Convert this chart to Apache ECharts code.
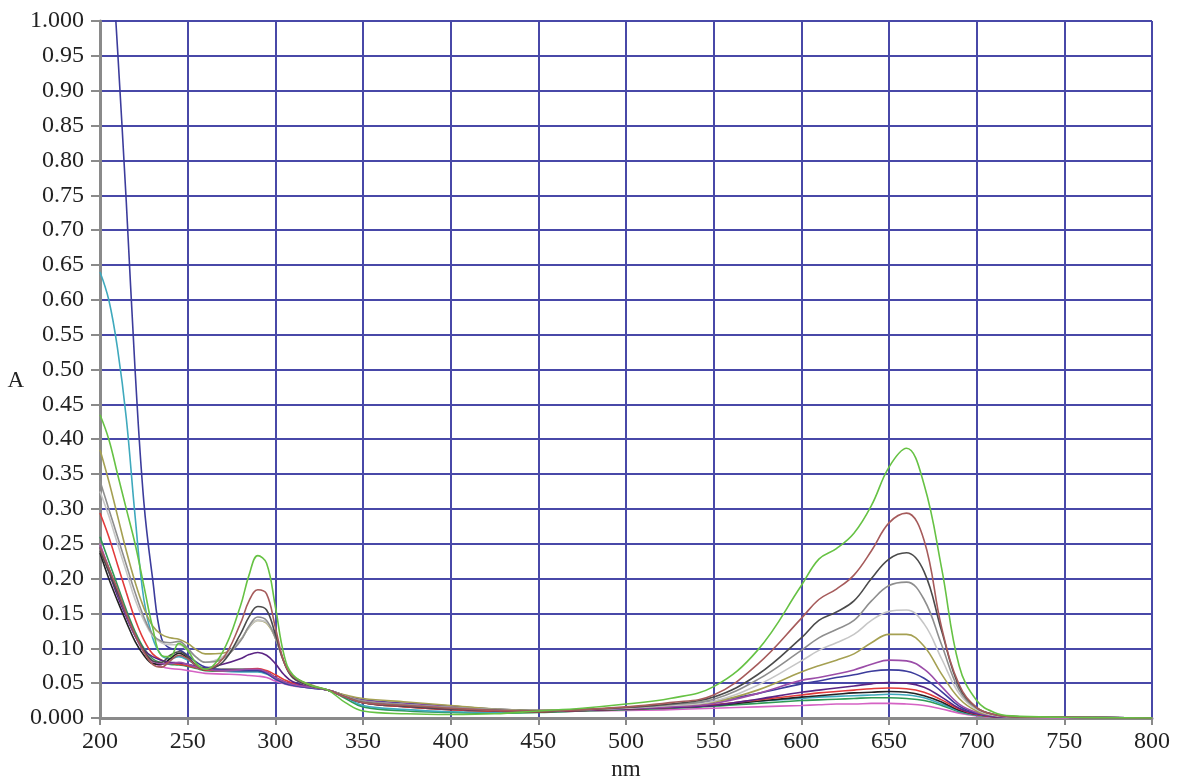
<!DOCTYPE html>
<html>
<head>
<meta charset="utf-8">
<script src="https://cdn.jsdelivr.net/npm/echarts@6/dist/echarts.min.js"></script>
<style>
  html, body { margin: 0; padding: 0; background: #fff; }
  #chart { width: 1178px; height: 781px; }
</style>
</head>
<body>
<div id="chart"></div>
<script>
// wavelengths (nm), shared by every spectrum
const wl = [200,205,210,215,220,225,230,235,240,245,250,255,260,270,280,285,290,295,300,305,310,320,330,340,350,375,400,425,450,475,500,525,550,575,600,610,620,630,640,650,660,670,680,690,700,710,720,750,800];

// absorbance
const green     = [0.435,0.40,0.35,0.30,0.25,0.19,0.13,0.09,0.088,0.107,0.097,0.078,0.07,0.095,0.16,0.205,0.233,0.222,0.16,0.09,0.062,0.047,0.040,0.022,0.010,0.006,0.005,0.006,0.010,0.014,0.020,0.028,0.045,0.097,0.19,0.228,0.243,0.265,0.305,0.36,0.387,0.335,0.215,0.075,0.025,0.008,0.003,0.001,0];
const brown     = [0.245,0.215,0.185,0.15,0.12,0.095,0.077,0.073,0.082,0.09,0.085,0.075,0.07,0.085,0.135,0.168,0.184,0.178,0.13,0.08,0.06,0.047,0.04,0.03,0.022,0.018,0.014,0.011,0.01,0.012,0.016,0.022,0.033,0.077,0.143,0.17,0.185,0.205,0.24,0.28,0.294,0.255,0.13,0.048,0.015,0.005,0.002,0.001,0];
const darkGrey  = [0.24,0.21,0.18,0.15,0.12,0.097,0.082,0.08,0.09,0.095,0.088,0.075,0.07,0.08,0.12,0.145,0.16,0.155,0.12,0.08,0.058,0.046,0.04,0.03,0.022,0.017,0.013,0.011,0.01,0.012,0.015,0.02,0.03,0.062,0.115,0.14,0.152,0.168,0.2,0.228,0.237,0.21,0.125,0.045,0.015,0.005,0.002,0.001,0];
const grey      = [0.34,0.30,0.26,0.22,0.18,0.145,0.12,0.11,0.108,0.11,0.1,0.087,0.08,0.085,0.11,0.132,0.145,0.14,0.115,0.08,0.058,0.046,0.04,0.031,0.024,0.019,0.015,0.012,0.01,0.012,0.015,0.019,0.027,0.055,0.097,0.115,0.127,0.14,0.168,0.19,0.195,0.17,0.105,0.04,0.014,0.005,0.002,0.001,0];
const lightGrey = [0.325,0.29,0.25,0.21,0.17,0.14,0.118,0.108,0.105,0.105,0.097,0.087,0.08,0.088,0.112,0.13,0.14,0.137,0.115,0.08,0.058,0.046,0.04,0.031,0.024,0.019,0.015,0.012,0.01,0.012,0.014,0.018,0.024,0.047,0.082,0.097,0.108,0.12,0.14,0.153,0.155,0.135,0.085,0.035,0.012,0.004,0.002,0.001,0];
const olive     = [0.385,0.34,0.29,0.24,0.195,0.158,0.132,0.12,0.115,0.113,0.107,0.098,0.092,0.093,0.112,0.13,0.14,0.136,0.115,0.08,0.06,0.048,0.04,0.033,0.028,0.023,0.018,0.013,0.011,0.012,0.015,0.018,0.023,0.04,0.066,0.075,0.083,0.092,0.108,0.12,0.12,0.103,0.063,0.028,0.01,0.004,0.002,0.001,0];
const violet    = [0.248,0.215,0.18,0.148,0.118,0.095,0.082,0.078,0.078,0.08,0.077,0.073,0.07,0.068,0.069,0.07,0.07,0.066,0.058,0.052,0.048,0.044,0.04,0.032,0.025,0.02,0.016,0.012,0.01,0.012,0.014,0.016,0.021,0.035,0.054,0.058,0.063,0.069,0.077,0.083,0.082,0.07,0.045,0.02,0.008,0.003,0.001,0.001,0];
const darkPurple= [0.245,0.21,0.175,0.145,0.118,0.098,0.088,0.083,0.08,0.079,0.077,0.074,0.072,0.077,0.085,0.091,0.094,0.09,0.078,0.062,0.052,0.045,0.04,0.03,0.022,0.017,0.013,0.011,0.01,0.011,0.013,0.015,0.018,0.027,0.037,0.04,0.043,0.046,0.049,0.051,0.05,0.044,0.03,0.014,0.006,0.002,0.001,0.001,0];
const blue      = [1.40,1.17,0.96,0.74,0.50,0.31,0.20,0.115,0.1,0.098,0.09,0.08,0.073,0.069,0.068,0.068,0.068,0.064,0.056,0.05,0.047,0.043,0.04,0.032,0.026,0.021,0.017,0.013,0.011,0.012,0.014,0.017,0.024,0.035,0.049,0.053,0.058,0.062,0.067,0.069,0.067,0.057,0.038,0.017,0.007,0.003,0.001,0.001,0];
const cyan      = [0.64,0.60,0.53,0.43,0.29,0.17,0.115,0.09,0.085,0.088,0.083,0.076,0.07,0.067,0.066,0.066,0.066,0.063,0.056,0.05,0.047,0.043,0.04,0.03,0.018,0.012,0.009,0.008,0.009,0.011,0.014,0.016,0.019,0.024,0.028,0.03,0.031,0.032,0.033,0.034,0.033,0.029,0.02,0.01,0.004,0.002,0.001,0.001,0];
const red       = [0.294,0.26,0.22,0.18,0.142,0.112,0.092,0.083,0.079,0.077,0.075,0.072,0.069,0.068,0.069,0.07,0.071,0.068,0.062,0.055,0.05,0.045,0.04,0.031,0.022,0.016,0.012,0.01,0.009,0.011,0.013,0.015,0.019,0.026,0.033,0.036,0.038,0.04,0.042,0.043,0.042,0.037,0.026,0.013,0.005,0.002,0.001,0.001,0];
const darkGreen = [0.26,0.225,0.19,0.155,0.124,0.1,0.085,0.079,0.077,0.076,0.074,0.071,0.068,0.067,0.067,0.067,0.067,0.064,0.057,0.051,0.047,0.044,0.04,0.028,0.016,0.01,0.008,0.007,0.008,0.01,0.012,0.014,0.017,0.021,0.025,0.026,0.027,0.028,0.029,0.029,0.028,0.025,0.018,0.009,0.004,0.002,0.001,0.001,0];
const pink      = [0.25,0.215,0.18,0.148,0.118,0.095,0.08,0.074,0.071,0.07,0.068,0.066,0.064,0.063,0.062,0.061,0.06,0.058,0.053,0.049,0.046,0.043,0.04,0.032,0.025,0.02,0.015,0.011,0.009,0.01,0.011,0.012,0.014,0.016,0.018,0.019,0.02,0.02,0.021,0.021,0.02,0.018,0.013,0.007,0.003,0.001,0.001,0,0];
const black     = [0.237,0.2,0.168,0.138,0.11,0.09,0.078,0.077,0.085,0.093,0.086,0.075,0.069,0.07,0.07,0.07,0.069,0.066,0.058,0.052,0.048,0.044,0.04,0.031,0.022,0.016,0.012,0.01,0.009,0.011,0.013,0.015,0.018,0.024,0.03,0.032,0.034,0.036,0.037,0.038,0.037,0.032,0.023,0.011,0.005,0.002,0.001,0.001,0];

const spectra = [
  { data: pink, color: "#d562c4" },
  { data: darkGreen, color: "#2f9a55" },
  { data: cyan, color: "#3fa9bd" },
  { data: black, color: "#222222" },
  { data: red, color: "#e23b3b" },
  { data: darkPurple, color: "#5b2584" },
  { data: blue, color: "#3c3c9c" },
  { data: violet, color: "#9b4da8" },
  { data: olive, color: "#a5a052" },
  { data: lightGrey, color: "#c6c6c6" },
  { data: grey, color: "#8e8e8e" },
  { data: darkGrey, color: "#4b4b4b" },
  { data: brown, color: "#a65b5b" },
  { data: green, color: "#66c244" },
];

const font = "Liberation Serif";
const chart = echarts.init(document.getElementById("chart"));

chart.setOption({
  animation: false,
  backgroundColor: "#fff",
  // keep the plot box fixed; labels may sit close to the edges
  grid: { left: 100, right: 26, top: 21, bottom: 63, outerBoundsMode: "none" },
  xAxis: {
    type: "value",
    min: 200,
    max: 800,
    interval: 50,
    name: "nm",
    nameLocation: "middle",
    nameGap: 40,
    nameTextStyle: { fontFamily: font, fontSize: 23, color: "#222" },
    axisLine: { show: true, onZero: false, lineStyle: { color: "#8a8a8a", width: 3 } },
    axisTick: { show: true, length: 7, lineStyle: { color: "#8a8a8a", width: 2 } },
    axisLabel: { fontFamily: font, fontSize: 24, color: "#222", margin: 12 },
    splitLine: { show: true, lineStyle: { color: "#4848a8", width: 2 } },
  },
  yAxis: {
    type: "value",
    min: 0,
    max: 1,
    interval: 0.05,
    name: "A",
    nameLocation: "middle",
    nameRotate: 0,
    nameGap: 76,
    nameTextStyle: { fontFamily: font, fontSize: 23, color: "#222", verticalAlign: "top" },
    axisLine: { show: true, lineStyle: { color: "#8a8a8a", width: 3 } },
    axisTick: { show: true, length: 9, lineStyle: { color: "#8a8a8a", width: 2 } },
    axisLabel: {
      fontFamily: font,
      fontSize: 24,
      color: "#222",
      margin: 16,
      formatter: (v) => (v === 0 || v === 1 ? v.toFixed(3) : v.toFixed(2)),
    },
    splitLine: { show: true, lineStyle: { color: "#4848a8", width: 2 } },
  },
  series: spectra.map((s) => ({
    type: "line",
    smooth: 0.4,
    showSymbol: false,
    clip: true,
    lineStyle: { color: s.color, width: 1.6 },
    data: wl.map((x, i) => [x, s.data[i]]),
  })),
});
</script>
</body>
</html>
